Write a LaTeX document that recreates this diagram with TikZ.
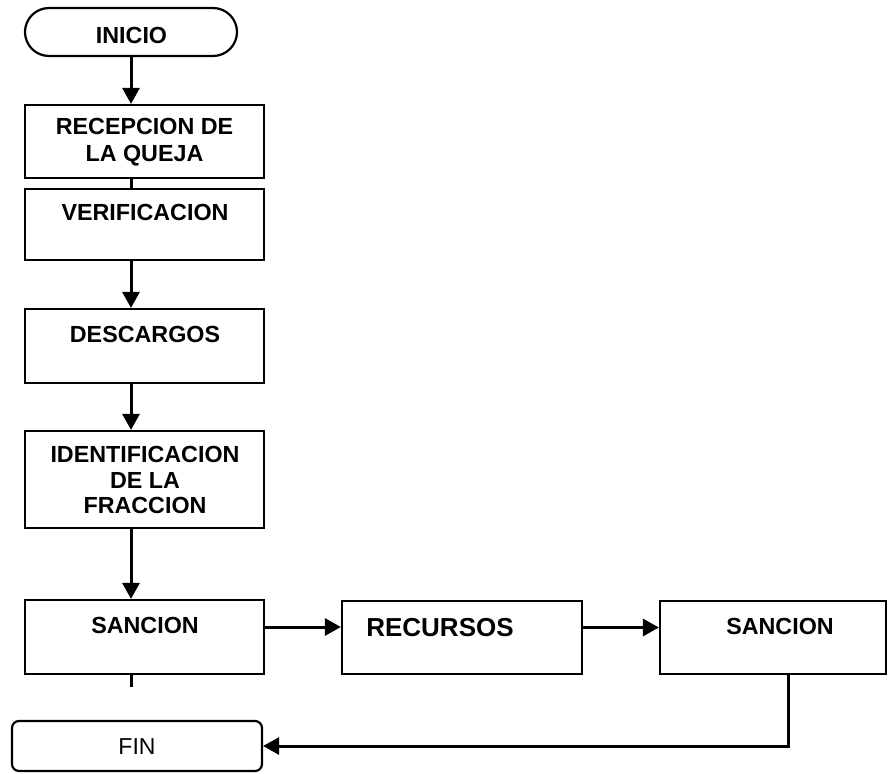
\documentclass[tikz,border=0pt]{standalone}
\usepackage{fontspec}
\setmainfont{Liberation Sans}
\usetikzlibrary{arrows.meta,calc}
\begin{document}
\begin{tikzpicture}[x=1pt,y=-1pt,
  box/.style={draw,line width=2.2pt,minimum width=239pt,inner sep=0pt},
  lbl/.style={font=\fontsize{23.3}{26.5}\selectfont\bfseries,align=center,inner sep=0pt},
  arr/.style={line width=3pt,-{Triangle[width=17pt,length=16pt]}},
  ln/.style={line width=3pt}]
\useasboundingbox (0,0) rectangle (888,773);
% boxes
\node[box,minimum width=212pt,minimum height=48pt,rounded corners=24pt] (inicio) at (131,32) {};
\node[box,minimum height=73pt] (rec) at (144.5,141.5) {};
\node[box,minimum height=71pt] (ver) at (144.5,224.5) {};
\node[box,minimum height=74pt] (des) at (144.5,346) {};
\node[box,minimum height=97pt] (ide) at (144.5,479.5) {};
\node[box,minimum height=74pt] (san1) at (144.5,637) {};
\node[box,minimum width=240pt,minimum height=73pt] (recur) at (462,637.5) {};
\node[box,minimum width=226pt,minimum height=73pt] (san2) at (773,637.5) {};
\node[box,minimum width=250pt,minimum height=50pt,rounded corners=7pt] (fin) at (137,746) {};
% texts
\node[lbl] (tinicio) at (131.5,35) {INICIO};
\node[lbl] (trec) at (144.5,142) {RECEPCION DE\\LA QUEJA};
\node[lbl] (tver) at (145,212) {VERIFICACION};
\node[lbl] (tdes) at (145,334) {DESCARGOS};
\node[lbl,font=\fontsize{23.3}{25.5}\selectfont\bfseries] (tide) at (145,480) {IDENTIFICACION\\DE LA\\FRACCION};
\node[lbl] (tsan1) at (145,625) {SANCION};
\node[lbl,font=\fontsize{26}{30}\selectfont\bfseries] (trecur) at (440,628) {RECURSOS};
\node[lbl] (tsan2) at (780,626) {SANCION};
\node[lbl,font=\fontsize{23}{26.5}\selectfont] (tfin) at (137,747) {FIN};
% connectors
\draw[arr] (inicio.south) -- (inicio.south |- rec.north);
\draw[ln] (inicio.south |- rec.south) -- (inicio.south |- ver.north);
\draw[arr] (inicio.south |- ver.south) -- (inicio.south |- des.north);
\draw[arr] (inicio.south |- des.south) -- (inicio.south |- ide.north);
\draw[arr] (inicio.south |- ide.south) -- (inicio.south |- san1.north);
\coordinate (stub) at (131,687);
\draw[ln] (inicio.south |- san1.south) -- (stub);
\coordinate (s1e) at ($(san1.east)+(0,-10)$);
\draw[arr] (s1e) -- (recur.west |- s1e);
\coordinate (re) at ($(recur.east)+(0,-10)$);
\draw[arr] (re) -- (san2.west |- re);
\coordinate (s2b) at ($(san2.south)+(15,0)$);
\draw[arr] (s2b) |- (fin.east);
\end{tikzpicture}
\end{document}
